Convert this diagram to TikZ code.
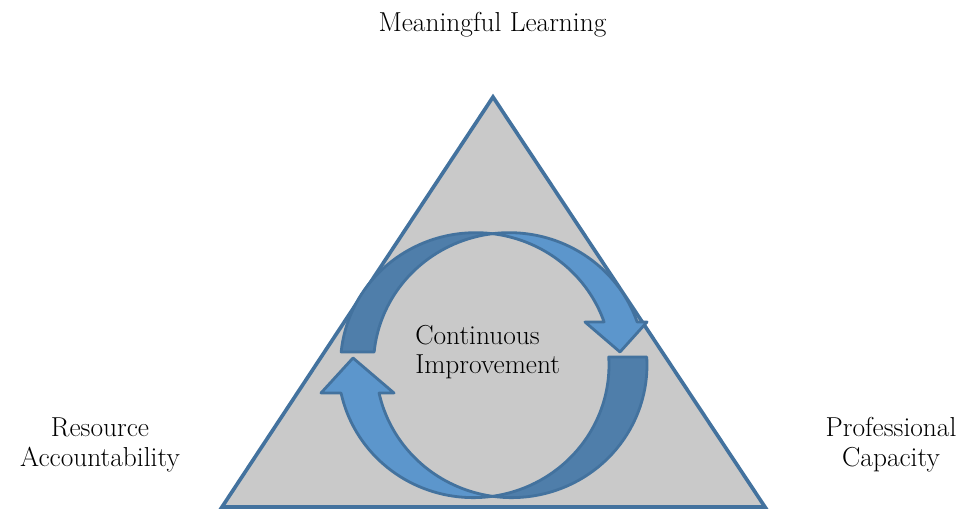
\documentclass[tikz,border=0pt]{standalone}
\definecolor{triFill}{RGB}{201,201,201}
\definecolor{edgeBlue}{RGB}{67,114,158}
\definecolor{frontBlue}{RGB}{92,150,204}
\definecolor{backBlue}{RGB}{79,126,170}
\tikzset{
  lbl/.style={font=\fontsize{19.5}{21.2}\selectfont, align=center, inner sep=0pt},
  arr/.style={draw=edgeBlue, line width=2pt, line join=round},
}
\begin{document}
\begin{tikzpicture}[x=0.025cm,y=-0.025cm]
\def\cx{492.5}
\def\cy{365}
\def\rx{135.5}
\def\ry{131.3}
\def\wt{16.5}
\def\wb{19}

\useasboundingbox (0,0) rectangle (963,510);

% triangle
\filldraw[fill=triFill, draw=edgeBlue, line width=2.6pt] (493,97) -- (765,507) -- (222,507) -- cycle;

% upper arrow, back half
\filldraw[arr, fill=backBlue]
  plot[domain=90:174.95, samples=40, variable=\a] ({\cx+(\rx+\wt*abs(cos(\a)))*cos(\a)}, {\cy-(\ry+\wt*abs(cos(\a)))*sin(\a)})
  -- plot[domain=173.5:90, samples=40, variable=\a] ({\cx+(\rx-\wt*abs(cos(\a)))*cos(\a)}, {\cy-(\ry-\wt*abs(cos(\a)))*sin(\a)})
  -- cycle;
% upper arrow, front half with head
\filldraw[arr, fill=frontBlue]
  plot[domain=90:17, samples=40, variable=\a] ({\cx+(\rx+\wt*abs(cos(\a)))*cos(\a)}, {\cy-(\ry+\wt*abs(cos(\a)))*sin(\a)})
  -- (647,322) -- (620,352) -- (585,322)
  -- plot[domain=21.8:90, samples=40, variable=\a] ({\cx+(\rx-\wt*abs(cos(\a)))*cos(\a)}, {\cy-(\ry-\wt*abs(cos(\a)))*sin(\a)})
  -- cycle;

% lower arrow, back half
\filldraw[arr, fill=backBlue]
  plot[domain=3.05:-90, samples=40, variable=\a] ({\cx+(\rx+\wb*abs(cos(\a)))*cos(\a)}, {\cy-(\ry+\wb*abs(cos(\a)))*sin(\a)})
  -- plot[domain=-90:4.08, samples=40, variable=\a] ({\cx+(\rx-\wb*abs(cos(\a)))*cos(\a)}, {\cy-(\ry-\wb*abs(cos(\a)))*sin(\a)})
  -- cycle;
% lower arrow, front half with head
\filldraw[arr, fill=frontBlue]
  plot[domain=270:190.8, samples=40, variable=\a] ({\cx+(\rx+\wb*abs(cos(\a)))*cos(\a)}, {\cy-(\ry+\wb*abs(cos(\a)))*sin(\a)})
  -- (321,393) -- (353,358) -- (394,393)
  -- plot[domain=194.4:270, samples=40, variable=\a] ({\cx+(\rx-\wb*abs(cos(\a)))*cos(\a)}, {\cy-(\ry-\wb*abs(cos(\a)))*sin(\a)})
  -- cycle;

% labels
\node[lbl, anchor=base] (learn) at (492.5,31.7) {Meaningful Learning};
\node[lbl, anchor=base] (resource) at (100,466.7) {Resource\\Accountability};
\node[lbl, anchor=base] (capacity) at (891,466.7) {Professional\\Capacity};
\node[lbl, anchor=base west, align=left] (improve) at (415,374) {Continuous\\Improvement};

\end{tikzpicture}
\end{document}
